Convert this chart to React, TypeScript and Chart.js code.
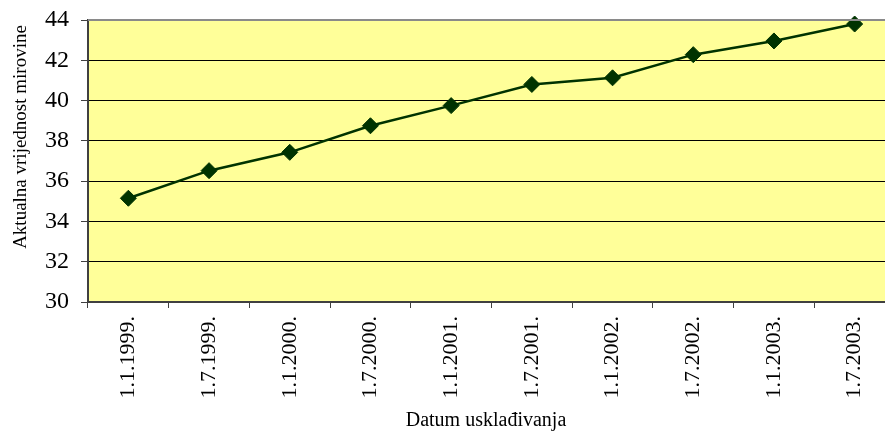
import React, { useEffect, useRef } from "react";
import { Chart, registerables } from "chart.js";

Chart.register(...registerables);

const categories = [
  "1.1.1999.", "1.7.1999.", "1.1.2000.", "1.7.2000.", "1.1.2001.",
  "1.7.2001.", "1.1.2002.", "1.7.2002.", "1.1.2003.", "1.7.2003.",
];
const values = [35.15, 36.52, 37.43, 38.75, 39.75, 40.8, 41.13, 42.28, 42.96, 43.8];
const yTitle = "Aktualna vrijednost mirovine";
const xTitle = "Datum usklađivanja";
const yMin = 30;
const yMax = 44;
const yStep = 2;

const FONT = "'Liberation Serif', 'Times New Roman', serif";

export default function App() {
  const ref = useRef<HTMLCanvasElement | null>(null);

  useEffect(() => {
    const canvas = ref.current;
    if (!canvas) return;
    Chart.defaults.font.family = FONT;
    const bgPlugin = {
      id: "bg",
      beforeDraw(chart: any) {
        const { ctx, chartArea } = chart;
        ctx.save();
        ctx.fillStyle = "#FFFF99";
        ctx.fillRect(chartArea.left, chartArea.top, chartArea.right - chartArea.left, chartArea.bottom - chartArea.top);
        ctx.restore();
      },
      afterDraw(chart: any) {
        const { ctx, chartArea } = chart;
        ctx.save();
        ctx.strokeStyle = "#8a8a8a";
        ctx.lineWidth = 2;
        ctx.beginPath();
        ctx.moveTo(chartArea.left, chartArea.top);
        ctx.lineTo(chartArea.right, chartArea.top);
        ctx.stroke();
        ctx.fillStyle = "#000";
        ctx.textAlign = "center";
        ctx.textBaseline = "middle";
        ctx.font = `20px ${FONT}`;
        ctx.fillText(xTitle, 486, 421);
        ctx.font = `19px ${FONT}`;
        ctx.translate(21, 137);
        ctx.rotate(-Math.PI / 2);
        ctx.fillText(yTitle, 0, 0);
        ctx.restore();
      },
    };
    const chart = new Chart(canvas, {
      type: "line",
      data: {
        labels: categories,
        datasets: [
          {
            data: values,
            borderColor: "#003300",
            backgroundColor: "#003300",
            borderWidth: 2.5,
            pointStyle: "rectRot",
            pointRadius: 8,
            pointHoverRadius: 8,
            pointBackgroundColor: "#003300",
            pointBorderColor: "#003300",
            pointBorderWidth: 1,
            tension: 0,
            clip: false as any,
          },
        ],
      },
      options: {
        animation: false,
        responsive: false,
        maintainAspectRatio: false,
        font: { family: FONT },
        layout: { padding: { left: 0, top: 20, right: 10, bottom: 0 } },
        plugins: { legend: { display: false }, tooltip: { enabled: false } },
        scales: {
          x: {
            offset: true,
            grid: {
              offset: true,
              drawOnChartArea: false,
              drawTicks: true,
              tickLength: 6,
              color: "#404040",
            },
            border: { display: true, color: "#404040", width: 2 },
            ticks: {
              minRotation: 90,
              maxRotation: 90,
              autoSkip: false,
              padding: 8,
              color: "#000",
              font: { family: FONT, size: 22 },
            },
            afterFit(scale: any) {
              scale.height = 133;
              scale.paddingLeft = 0;
              scale.paddingRight = 0;
            },
          },
          y: {
            min: yMin,
            max: yMax,
            ticks: {
              stepSize: yStep,
              padding: 12,
              color: "#000",
              font: { family: FONT, size: 24 },
            },
            grid: {
              color: "#000",
              lineWidth: 1,
              tickLength: 7,
              tickColor: "#404040",
            },
            border: { display: true, color: "#404040", width: 2 },
            afterFit(scale: any) {
              scale.width = 88;
              scale.paddingTop = 0;
              scale.paddingBottom = 0;
            },
          },
        },
      },
      plugins: [bgPlugin],
    });
    return () => chart.destroy();
  }, []);

  return (
    <div style={{ position: "fixed", left: 0, top: 0, width: 885, height: 435, overflow: "hidden", background: "#fff" }}>
      <canvas ref={ref} width={905} height={435} style={{ display: "block" }} />
    </div>
  );
}
